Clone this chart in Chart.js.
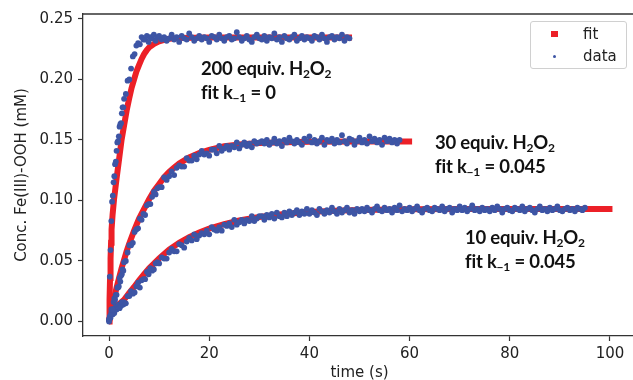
<!DOCTYPE html>
<html>
<head>
<meta charset="utf-8">
<script src="https://cdn.jsdelivr.net/npm/chart.js@4.4.1/dist/chart.umd.min.js"></script>
<style>
  body { margin: 0; overflow: hidden; background: #fff; }
  #wrap { position: relative; width: 640px; height: 380px; }
  .note { position: absolute; font-family: Lato, "Open Sans", sans-serif; font-weight: 700; font-size: 18.5px;
          line-height: 24px; color: #111; white-space: nowrap; letter-spacing: -0.2px; }
  .note sub { font-size: 12px; vertical-align: -3px; line-height: 0; }
  #legend { position: absolute; left: 530px; top: 21px; width: 95px; height: 46px; border: 1px solid #d0d0d0;
            border-radius: 3px; background: rgba(255,255,255,0.85); font-family: "DejaVu Sans", sans-serif;
            font-size: 15px; color: #222; }
  #legend .row { position: absolute; left: 0; height: 20px; line-height: 20px; }
  #legend .lab { position: absolute; left: 52px; }
  #legend .sq { position: absolute; left: 20px; top: 7px; width: 7px; height: 6px; background: #ec2027; }
  #legend .dot { position: absolute; left: 22px; top: 9px; width: 3px; height: 3px; border-radius: 50%; background: #3d55a5; }
</style>
</head>
<body>
<div id="wrap">
  <canvas id="chart"></canvas>
  <div class="note" style="left:201px;top:56px">200 equiv. H<sub>2</sub>O<sub>2</sub><br>fit k<sub>−1</sub> = 0</div>
  <div class="note" style="left:435px;top:130px">30 equiv. H<sub>2</sub>O<sub>2</sub><br>fit k<sub>−1</sub> = 0.045</div>
  <div class="note" style="left:465px;top:225px">10 equiv. H<sub>2</sub>O<sub>2</sub><br>fit k<sub>−1</sub> = 0.045</div>
  <div id="legend">
    <div class="row" style="top:2px;width:95px"><span class="sq"></span><span class="lab">fit</span></div>
    <div class="row" style="top:24px;width:95px"><span class="dot"></span><span class="lab">data</span></div>
  </div>
</div>
<script>
// sample times of the measured traces (s)
const timeS = [
  0, 0.15, 0.3, 0.45, 0.6, 0.75, 0.9, 1.05, 1.2, 1.35, 1.5, 1.65, 1.8, 1.95, 2.1, 2.25, 2.4, 2.55, 2.7, 2.85,
  3, 3.35, 3.7, 4.05, 4.4, 4.75, 5.1, 5.45, 5.8, 6.15, 6.5, 6.85, 7.2, 7.55, 7.9, 8.25, 8.6, 8.95, 9.3, 9.65,
  10, 10.5, 11, 11.5, 12, 12.5, 13, 13.5, 14, 14.5, 15, 15.5, 16, 16.5, 17, 17.5, 18, 18.5, 19, 19.5,
  20, 20.5, 21, 21.5, 22, 22.5, 23, 23.5, 24, 24.5, 25, 25.5, 26, 26.5, 27, 27.5, 28, 28.5, 29, 29.5,
  30, 30.5, 31, 31.5, 32, 32.5, 33, 33.5, 34, 34.5, 35, 35.5, 36, 36.5, 37, 37.5, 38, 38.5, 39, 39.5,
  40, 40.5, 41, 41.5, 42, 42.5, 43, 43.5, 44, 44.5, 45, 45.5, 46, 46.5, 47, 47.5, 48, 48.5, 49, 49.5,
  50, 50.5, 51, 51.5, 52, 52.5, 53, 53.5, 54, 54.5, 55, 55.5, 56, 56.5, 57, 57.5, 58, 58.5, 59, 59.5,
  60, 60.5, 61, 61.5, 62, 62.5, 63, 63.5, 64, 64.5, 65, 65.5, 66, 66.5, 67, 67.5, 68, 68.5, 69, 69.5,
  70, 70.5, 71, 71.5, 72, 72.5, 73, 73.5, 74, 74.5, 75, 75.5, 76, 76.5, 77, 77.5, 78, 78.5, 79, 79.5,
  80, 80.5, 81, 81.5, 82, 82.5, 83, 83.5, 84, 84.5, 85, 85.5, 86, 86.5, 87, 87.5, 88, 88.5, 89, 89.5,
  90, 90.5, 91, 91.5, 92, 92.5, 93, 93.5, 94, 94.5, 95
];

// measured Fe(III)-OOH (mM), 200 equiv (to 48 s)
const data200 = [
  0.002, 0.037, 0.059, 0.083, 0.099, 0.104, 0.115, 0.120, 0.130, 0.132, 0.141, 0.148, 0.149, 0.153, 0.161, 0.163, 0.164, 0.172, 0.177, 0.177,
  0.184, 0.188, 0.199, 0.200, 0.209, 0.219, 0.221, 0.228, 0.230, 0.229, 0.235, 0.233, 0.233, 0.236, 0.231, 0.235, 0.234, 0.237, 0.232, 0.235,
  0.236, 0.233, 0.235, 0.232, 0.234, 0.237, 0.233, 0.235, 0.231, 0.236,
  0.234, 0.233, 0.238, 0.235, 0.232, 0.234, 0.236, 0.233, 0.235, 0.234,
  0.231, 0.236, 0.235, 0.233, 0.237, 0.234, 0.232, 0.235, 0.236, 0.233,
  0.234, 0.239, 0.235, 0.232, 0.234, 0.236, 0.233, 0.231, 0.235, 0.237,
  0.234, 0.233, 0.236, 0.232, 0.235, 0.234, 0.238, 0.233, 0.235, 0.231,
  0.236, 0.234, 0.233, 0.235, 0.237, 0.232, 0.234, 0.236, 0.233, 0.235,
  0.234, 0.232, 0.236, 0.235, 0.233, 0.237, 0.234, 0.231, 0.235, 0.236,
  0.233, 0.235, 0.234, 0.237, 0.232, 0.235, 0.234
];

// 30 equiv (to 58 s)
const data30 = [
  0.001, 0.004, 0.005, 0.010, 0.010, 0.010, 0.016, 0.019, 0.018, 0.022, 0.022, 0.028, 0.028, 0.029, 0.036, 0.033, 0.038, 0.039, 0.043, 0.042,
  0.049, 0.050, 0.057, 0.063, 0.063, 0.065, 0.074, 0.076, 0.077, 0.085, 0.084, 0.089, 0.088, 0.096, 0.097, 0.097, 0.103, 0.107, 0.105, 0.110,
  0.111, 0.111, 0.119, 0.117, 0.120, 0.124, 0.121, 0.127, 0.129, 0.128,
  0.128, 0.135, 0.133, 0.133, 0.137, 0.134, 0.138, 0.141, 0.138, 0.139,
  0.137, 0.142, 0.142, 0.139, 0.145, 0.141, 0.143, 0.145, 0.142, 0.145,
  0.144, 0.148, 0.143, 0.146, 0.148, 0.145, 0.147, 0.144, 0.149, 0.147,
  0.148,
  0.149, 0.147, 0.150, 0.146, 0.148, 0.151, 0.147, 0.149, 0.145, 0.150,
  0.148, 0.152, 0.149, 0.147, 0.150, 0.148, 0.146, 0.151, 0.149, 0.153,
  0.148, 0.150, 0.147, 0.149, 0.152, 0.146, 0.150, 0.149, 0.151, 0.147,
  0.150, 0.148, 0.154, 0.149, 0.147, 0.151, 0.150, 0.146, 0.149, 0.152,
  0.148, 0.150, 0.147, 0.153, 0.149, 0.151, 0.148, 0.150, 0.146, 0.152,
  0.149, 0.151, 0.148, 0.150, 0.147, 0.150
];

// 10 equiv (to 95 s)
const data10 = [
  0.000, 0.003, 0.003, 0.007, 0.006, 0.006, 0.010, 0.007, 0.010, 0.012, 0.010, 0.012, 0.012, 0.014, 0.011, 0.014, 0.013, 0.016, 0.015, 0.014,
  0.016, 0.015, 0.021, 0.021, 0.025, 0.023, 0.024, 0.029, 0.032, 0.028, 0.034, 0.035, 0.035, 0.041, 0.039, 0.044, 0.042, 0.043, 0.048, 0.049,
  0.048, 0.053, 0.052, 0.052, 0.057, 0.060, 0.058, 0.058, 0.064, 0.063,
  0.061, 0.066, 0.069, 0.067, 0.072, 0.068, 0.071, 0.073, 0.072, 0.075,
  0.072, 0.078, 0.076, 0.075, 0.078, 0.075, 0.080, 0.079, 0.081, 0.078,
  0.084, 0.080, 0.082, 0.084, 0.081, 0.084, 0.083, 0.087, 0.083, 0.085,
  0.087,
  0.087, 0.084, 0.088, 0.086, 0.089, 0.085, 0.090, 0.087, 0.086,
  0.090, 0.087, 0.091, 0.088, 0.090, 0.092, 0.088, 0.091, 0.089, 0.093,
  0.089, 0.092, 0.090, 0.088, 0.093, 0.091, 0.089, 0.092, 0.090, 0.094,
  0.091, 0.089, 0.093, 0.090, 0.092, 0.094, 0.090, 0.092, 0.089, 0.093, 0.091,
  0.093, 0.091, 0.094, 0.092, 0.090, 0.093, 0.095, 0.092, 0.091, 0.094,
  0.092, 0.093, 0.090, 0.094, 0.092, 0.096, 0.091, 0.093, 0.092, 0.094,
  0.091, 0.093, 0.095, 0.092, 0.090, 0.093, 0.094, 0.092, 0.091, 0.094,
  0.093, 0.092, 0.095, 0.091, 0.093, 0.094, 0.090, 0.093, 0.092, 0.095,
  0.092, 0.094, 0.091, 0.093, 0.096, 0.092, 0.093, 0.091, 0.094, 0.092,
  0.093, 0.091, 0.094, 0.092, 0.095, 0.093, 0.090, 0.093, 0.094, 0.092,
  0.091, 0.094, 0.093, 0.092, 0.095, 0.091, 0.093, 0.094, 0.092, 0.090,
  0.093, 0.095, 0.092, 0.093, 0.091, 0.094, 0.092, 0.093, 0.095, 0.092,
  0.091, 0.093, 0.094, 0.092, 0.093, 0.091, 0.094, 0.093, 0.092, 0.094
];

// fitted curves
const fitT200 = [0, 0.1, 0.2, 0.3, 0.4, 0.5, 0.7, 1, 1.5, 2, 2.5, 3, 3.5, 4, 4.5, 5, 5.5, 6, 6.5, 7, 7.5, 8, 9, 10, 11, 12, 14, 17, 20, 30, 48.5];
const fit200 = [0, 0.018, 0.036, 0.052, 0.065, 0.076, 0.088, 0.101, 0.118, 0.134, 0.150, 0.162, 0.174, 0.184, 0.193, 0.200, 0.207, 0.212, 0.217, 0.221, 0.224, 0.2265, 0.2295, 0.2315, 0.2328, 0.2336, 0.2342, 0.2345, 0.2346, 0.2346, 0.2346];
const fitT30 = [0, 0.3, 0.6, 1, 1.5, 2, 2.5, 3, 3.5, 4, 5, 6, 7, 8, 9, 10, 11, 12, 13, 14, 16, 18, 20, 23, 26, 30, 35, 40, 50, 60.5];
const fit30 = [0, 0.006, 0.012, 0.019, 0.028, 0.036, 0.044, 0.051, 0.058, 0.064, 0.075, 0.085, 0.093, 0.101, 0.108, 0.1135, 0.1192, 0.1236, 0.1273, 0.1305, 0.1355, 0.1392, 0.1419, 0.1448, 0.1462, 0.1475, 0.1482, 0.1486, 0.1488, 0.1488];
const fitT10 = [0, 0.3, 0.7, 1.2, 2, 3, 4, 5, 6, 7, 8, 9, 10, 12, 14, 16, 18, 20, 23, 26, 30, 35, 40, 45, 50, 60, 70, 80, 100.5];
const fit10 = [0, 0.006, 0.010, 0.012, 0.0145, 0.018, 0.0235, 0.0285, 0.034, 0.039, 0.044, 0.048, 0.0522, 0.0594, 0.065, 0.0697, 0.0735, 0.0767, 0.0804, 0.0834, 0.0864, 0.0889, 0.0904, 0.0916, 0.0922, 0.0927, 0.0929, 0.093, 0.093];

const xTicks = [0, 20, 40, 60, 80, 100];
const yTicks = [0, 0.05, 0.1, 0.15, 0.2, 0.25];

const RED = '#ec2027';
const BLUE = '#3d55a5';
const pts = (xs, ys) => ys.map((y, i) => ({ x: xs[i], y }));

const dataSet = (ys) => ({
  data: pts(timeS, ys), showLine: false, pointRadius: 2.9, pointBorderWidth: 0,
  backgroundColor: BLUE, borderColor: BLUE, order: 0
});
const fitSet = (xs, ys) => ({
  data: pts(xs, ys), showLine: true, pointRadius: 0, borderWidth: 6,
  borderColor: RED, backgroundColor: RED, tension: 0, order: 1
});

// top spine (matplotlib style box)
const framePlugin = {
  id: 'frame',
  afterDraw(chart) {
    const { ctx, chartArea: a } = chart;
    ctx.save();
    ctx.strokeStyle = '#333';
    ctx.lineWidth = 1.3;
    ctx.beginPath();
    ctx.moveTo(a.left, a.top);
    ctx.lineTo(a.right, a.top);
    ctx.stroke();
    ctx.restore();
  }
};

const axisFont = { family: 'DejaVu Sans', size: 15 };

new Chart(document.getElementById('chart'), {
  type: 'scatter',
  data: {
    datasets: [
      dataSet(data200), dataSet(data30), dataSet(data10),
      fitSet(fitT200, fit200), fitSet(fitT30, fit30), fitSet(fitT10, fit10)
    ]
  },
  options: {
    responsive: true,
    maintainAspectRatio: false,
    animation: false,
    layout: { padding: { top: 14, right: 4, left: 0, bottom: 0 } },
    plugins: { legend: { display: false }, tooltip: { enabled: false } },
    scales: {
      x: {
        type: 'linear', min: -5.2, max: 105.2,
        afterBuildTicks: s => { s.ticks = xTicks.map(v => ({ value: v })); },
        afterFit: s => { s.height = 44; },
        ticks: { color: '#222', font: axisFont, padding: 4, callback: v => String(v) },
        grid: { drawOnChartArea: false, tickLength: 5, tickColor: '#333', tickWidth: 1.2 },
        border: { color: '#333', width: 1.3 },
        title: { display: true, text: 'time (s)', color: '#222', font: axisFont, padding: { top: 0, bottom: -2 } }
      },
      y: {
        type: 'linear', min: -0.012, max: 0.2541,
        afterBuildTicks: s => { s.ticks = yTicks.map(v => ({ value: v })); },
        afterFit: s => { s.width = 83; },
        ticks: { color: '#222', font: axisFont, padding: 5, callback: v => v.toFixed(2) },
        grid: { drawOnChartArea: false, tickLength: 5, tickColor: '#333', tickWidth: 1.2 },
        border: { color: '#333', width: 1.3 },
        title: { display: true, text: 'Conc. Fe(III)-OOH (mM)', color: '#222', font: axisFont, padding: { top: 13, bottom: 0 } }
      }
    }
  },
  plugins: [framePlugin]
});
</script>
</body>
</html>
